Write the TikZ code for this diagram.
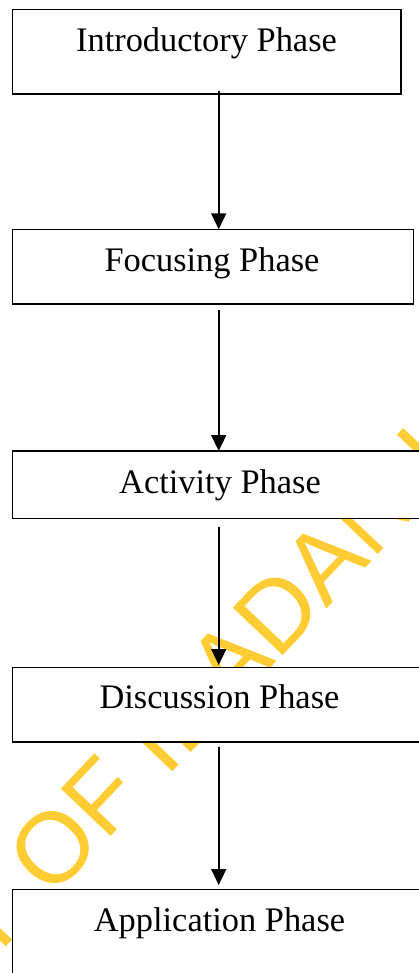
\documentclass[tikz,border=0pt]{standalone}
\usepackage{fontspec}
\setmainfont{Liberation Serif}
\newfontfamily\wmfont{Liberation Sans}
\usetikzlibrary{arrows.meta}
\definecolor{wmyellow}{RGB}{255,204,51}
\begin{document}
\begin{tikzpicture}[x=1pt,y=-1pt,
  phasebox/.style={draw=black,line width=1.4pt,fill=white,rectangle,inner sep=0pt,outer sep=0pt,anchor=north west},
  phasetext/.style={inner sep=0pt,anchor=base,font=\fontsize{34.4}{40}\selectfont},
  flowarrow/.style={draw=black,line width=1.6pt,-{Triangle[length=16pt,width=15pt]}},
  watermark/.style={inner sep=0pt,anchor=base west,text=wmyellow,font=\wmfont\fontsize{100}{110}\selectfont,rotate=46.5}]
\useasboundingbox (0,0) rectangle (419,973);
\fill[white] (0,0) rectangle (419,973);
\clip (0,0) rectangle (419,973);
\node[watermark] (wm) at (51.4,899.5) {\llap{UNIVERSITY }OF IBADAN LIBRARY};
\node[phasebox,minimum width=388.7pt,minimum height=84.7pt] (b1) at (12.3,9.3) {};
\node[phasebox,minimum width=401pt,minimum height=74.7pt] (b2) at (12.3,229.3) {};
\node[phasebox,minimum width=420pt,minimum height=67.3pt] (b3) at (12.3,451) {};
\node[phasebox,minimum width=420pt,minimum height=74.3pt] (b4) at (12.3,667.7) {};
\node[phasebox,minimum width=420pt,minimum height=120pt] (b5) at (12.3,889.7) {};
\node[phasetext] (t1) at (206.5,51.7) {Introductory Phase};
\node[phasetext] (t2) at (212,271.7) {Focusing Phase};
\node[phasetext] (t3) at (220,493.3) {Activity Phase};
\node[phasetext] (t4) at (219.5,708.3) {Discussion Phase};
\node[phasetext] (t5) at (219.5,931.7) {Application Phase};
\coordinate (ax) at (218.7,0);
\draw[flowarrow] ([yshift=3.3pt]b1.south -| ax) -- (b2.north -| ax);
\draw[flowarrow] ([yshift=-6pt]b2.south -| ax) -- (b3.north -| ax);
\draw[flowarrow] ([yshift=-8.5pt]b3.south -| ax) -- ([yshift=2.7pt]b4.north -| ax);
\draw[flowarrow] ([yshift=-4.7pt]b4.south -| ax) -- ([yshift=4.7pt]b5.north -| ax);
\end{tikzpicture}
\end{document}
